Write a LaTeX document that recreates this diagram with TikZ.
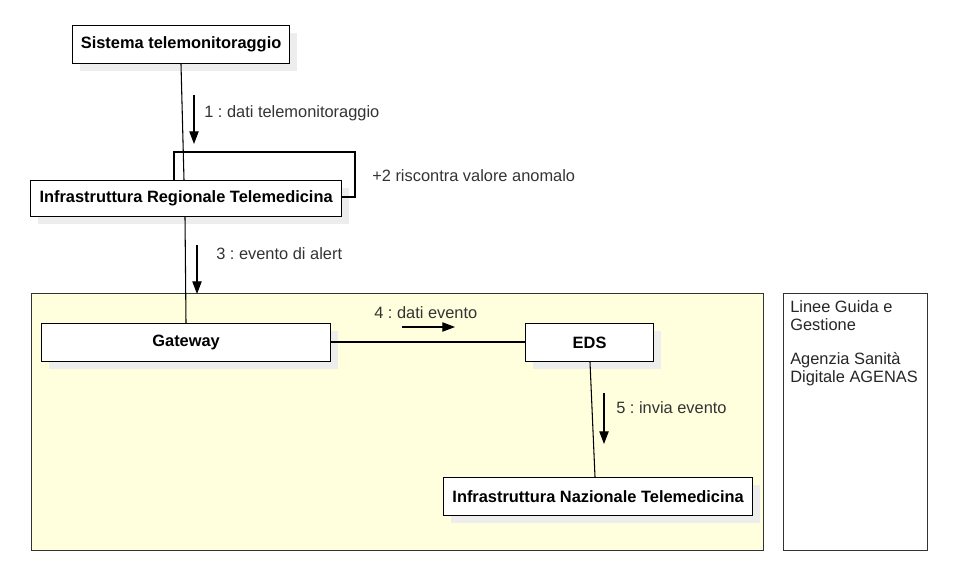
\documentclass[tikz,border=0pt]{standalone}
\usepackage{fontspec}
\setmainfont{Liberation Sans}
\usetikzlibrary{arrows.meta}
\definecolor{pkgfill}{HTML}{FFFFDD}
\definecolor{shadowc}{HTML}{EDEDED}
\definecolor{edgec}{HTML}{333333}
\frenchspacing
\begin{document}
\begin{tikzpicture}[x=0.75pt,y=-0.75pt,
  objbox/.style={draw=black,line width=0.9pt,fill=white,font=\bfseries\fontsize{12.3}{14}\selectfont,inner sep=0pt},
  lbl/.style={font=\fontsize{12.3}{14}\selectfont,anchor=west,inner sep=0pt,text=black!80},
  msg/.style={-{Triangle[length=9.5pt,width=7pt]},line width=0.8pt},
  link/.style={line width=0.8pt}]
\useasboundingbox (0,0) rectangle (966,571);
% container
\node[draw=edgec,line width=0.8pt,fill=pkgfill,minimum width=732*0.75pt,minimum height=257*0.75pt,anchor=north west,inner sep=0pt] (pkg) at (31,293) {};
% note
\node[draw=edgec,line width=0.8pt,fill=white,minimum width=144*0.75pt,minimum height=257*0.75pt,anchor=north west,inner sep=0pt] (note) at (783,293) {};
\node[anchor=north west,align=left,inner sep=0pt,font=\fontsize{12.3}{13.5}\selectfont,text=black!85] (notetxt) at (790,300) {Linee Guida e\\Gestione\\[12pt]Agenzia Sanità\\Digitale AGENAS};
% shadows
\fill[shadowc] (80,33) rectangle (297,71);
\fill[shadowc] (38,188) rectangle (349,224);
\fill[shadowc] (49,331) rectangle (338,369);
\fill[shadowc] (533,331) rectangle (661,369);
\fill[shadowc] (451,485) rectangle (760,523);
% boxes
\node[objbox,minimum width=217*0.75pt,minimum height=38*0.75pt,anchor=north west] (sis) at (72,25) {Sistema telemonitoraggio};
\node[objbox,minimum width=311*0.75pt,minimum height=36*0.75pt,anchor=north west] (reg) at (30,180) {Infrastruttura Regionale Telemedicina};
\node[objbox,minimum width=289*0.75pt,minimum height=38*0.75pt,anchor=north west] (gw) at (41,323) {Gateway};
\node[objbox,minimum width=128*0.75pt,minimum height=38*0.75pt,anchor=north west] (eds) at (525,323) {EDS};
\node[objbox,minimum width=309*0.75pt,minimum height=38*0.75pt,anchor=north west] (naz) at (443,477) {Infrastruttura Nazionale Telemedicina};
% links
\draw[link] (sis.south -| 181,0) -- (reg.north -| 184,0);
\draw[link] (reg.north -| 174,0) -- (174,152) -- (355,152) -- (355,197) -- (reg.east |- 0,197);
\draw[link] (reg.south -| 185,0) -- (gw.north -| 186,0);
\draw[link] (gw.east |- 0,342) -- (eds.west |- 0,342);
\draw[link] (eds.south -| 590,0) -- (naz.north -| 595,0);
% message arrows
\coordinate (m1a) at (194,95); \coordinate (m1b) at (194,144);
\draw[msg] (m1a) -- (m1b);
\node[lbl] (l1) at (204,113) {1 : dati telemonitoraggio};
\node[lbl] (l2) at (372,176) {+2 riscontra valore anomalo};
\coordinate (m3a) at (197,245); \coordinate (m3b) at (197,294);
\draw[msg] (m3a) -- (m3b);
\node[lbl] (l3) at (216,254) {3 : evento di alert};
\coordinate (m4a) at (402,327); \coordinate (m4b) at (455,327);
\draw[msg] (m4a) -- (m4b);
\node[lbl] (l4) at (374,313) {4 : dati evento};
\coordinate (m5a) at (604,393); \coordinate (m5b) at (604,444);
\draw[msg] (m5a) -- (m5b);
\node[lbl] (l5) at (616,408) {5 : invia evento};
\end{tikzpicture}
\end{document}
